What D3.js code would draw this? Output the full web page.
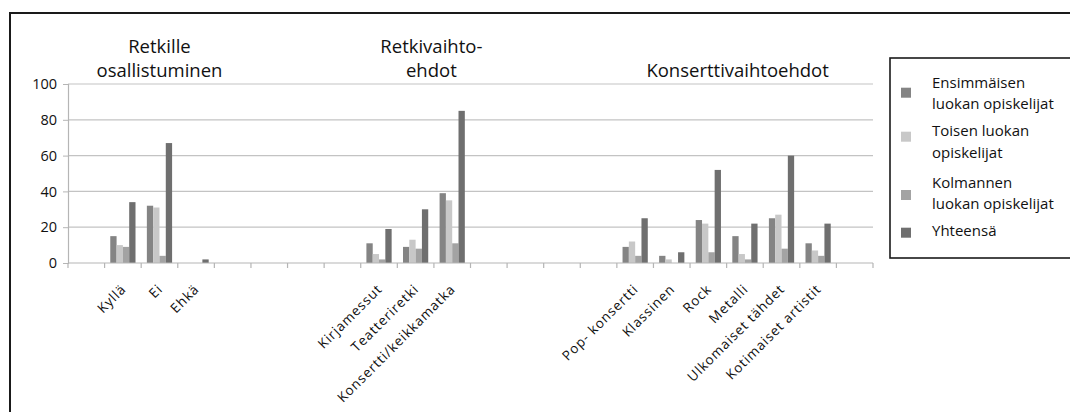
<!DOCTYPE html>
<html>
<head>
<meta charset="utf-8">
<script src="https://cdn.jsdelivr.net/npm/d3@7"></script>
<style>
  html, body { margin: 0; padding: 0; background: #fff; }
  svg { display: block; font-family: "Open Sans", sans-serif; }
</style>
</head>
<body>
<svg id="chart" width="1070" height="412"></svg>
<script>
// ---- data ----
const categories = ["", "Kyllä", "Ei", "Ehkä", "", "", "", "",
  "Kirjamessut", "Teatteriretki", "Konsertti/keikkamatka", "", "", "", "",
  "Pop- konsertti", "Klassinen", "Rock", "Metalli", "Ulkomaiset tähdet", "Kotimaiset artistit", ""];
const seriesNames = ["Ensimmäisen luokan opiskelijat", "Toisen luokan opiskelijat",
  "Kolmannen luokan opiskelijat", "Yhteensä"];
const legendLines = [["Ensimmäisen", "luokan opiskelijat"], ["Toisen luokan", "opiskelijat"],
  ["Kolmannen", "luokan opiskelijat"], ["Yhteensä"]];
const ensimmaiset = [null, 15, 32, 0, null, null, null, null, 11, 9, 39, null, null, null, null, 9, 4, 24, 15, 25, 11, null];
const toiset      = [null, 10, 31, 0, null, null, null, null, 5, 13, 35, null, null, null, null, 12, 2, 22, 5, 27, 7, null];
const kolmannet   = [null, 9, 4, 0, null, null, null, null, 2, 8, 11, null, null, null, null, 4, 0, 6, 2, 8, 4, null];
const yhteensa    = [null, 34, 67, 2, null, null, null, null, 19, 30, 85, null, null, null, null, 25, 6, 52, 22, 60, 22, null];
const yTicks = [0, 20, 40, 60, 80, 100];
const groupTitles = [["Retkille", "osallistuminen"], ["Retkivaihto-", "ehdot"], ["Konserttivaihtoehdot"]];
const groupTitlePos = [2.5, 9.93, 18.3];
const colors = ["#848484", "#c8c8c8", "#a3a3a3", "#6f6f6f"];

const seriesValues = [ensimmaiset, toiset, kolmannet, yhteensa];

// ---- layout ----
const svg = d3.select("#chart");
const pLeft = 68, pRight = 873, pTop = 84, pBottom = 263;

const idx = categories.map((d, i) => i);
const x = d3.scaleBand().domain(idx).range([pLeft, pRight]).paddingInner(0).paddingOuter(0);
const bw = x.bandwidth();
const gapRatio = 1.8;
const barW = bw / (4 + gapRatio);
const xs = d3.scaleBand().domain(d3.range(4)).range([barW * gapRatio / 2, bw - barW * gapRatio / 2]).padding(0);
const y = d3.scaleLinear().domain([0, 100]).range([pBottom, pTop]);

// outer border
svg.append("rect").attr("x", 10).attr("y", 13).attr("width", 1100).attr("height", 450)
  .attr("fill", "none").attr("stroke", "#1a1a1a").attr("stroke-width", 2);

// gridlines
svg.append("g").selectAll("line").data(yTicks.filter(t => t > 0)).join("line")
  .attr("x1", pLeft).attr("x2", pRight)
  .attr("y1", d => y(d)).attr("y2", d => y(d))
  .attr("stroke", "#c3c3c3").attr("stroke-width", 1.2);

// y axis
const yAxis = d3.axisLeft(y).tickValues(yTicks).tickSize(5).tickPadding(6);
const gy = svg.append("g").attr("transform", `translate(${pLeft},0)`).call(yAxis);
gy.select(".domain").attr("stroke", "#b5b5b5").attr("stroke-width", 1.2);
gy.selectAll(".tick line").attr("stroke", "#b5b5b5");
gy.selectAll(".tick text").attr("font-size", 14.5).attr("fill", "#111")
  .attr("font-family", "Open Sans, sans-serif");

// bars
const barData = [];
idx.forEach(i => seriesValues.forEach((s, k) => {
  if (s[i] != null) barData.push({ i, k, v: s[i] });
}));
svg.append("g").selectAll("rect").data(barData).join("rect")
  .attr("x", d => x(d.i) + xs(d.k))
  .attr("width", xs.bandwidth())
  .attr("y", d => y(d.v))
  .attr("height", d => y(0) - y(d.v))
  .attr("fill", d => colors[d.k]);

// x axis line with boundary ticks
const gx = svg.append("g");
gx.append("line").attr("x1", pLeft).attr("x2", pRight).attr("y1", y(0)).attr("y2", y(0))
  .attr("stroke", "#b5b5b5").attr("stroke-width", 1.2);
const bounds = idx.map(i => x(i)).concat([pRight]);
gx.selectAll("line.tk").data(bounds).join("line").attr("class", "tk")
  .attr("x1", d => d).attr("x2", d => d).attr("y1", y(0)).attr("y2", y(0) + 5)
  .attr("stroke", "#b5b5b5").attr("stroke-width", 1.2);

// x labels
svg.append("g").selectAll("text").data(idx.filter(i => categories[i] !== "")).join("text")
  .attr("transform", i => `translate(${x(i) + bw / 2 + 4},${y(0) + 27}) rotate(-45)`)
  .attr("text-anchor", "end")
  .attr("font-size", 13.5)
  .attr("letter-spacing", 0.9)
  .attr("fill", "#111")
  .text(i => categories[i]);

// group titles
groupTitles.forEach((lines, g) => {
  const cx = pLeft + groupTitlePos[g] * bw;
  const n = lines.length;
  lines.forEach((t, j) => {
    svg.append("text").attr("x", cx).attr("y", 77 - (n - 1 - j) * 24)
      .attr("text-anchor", "middle").attr("font-size", 18.5).attr("fill", "#111").text(t);
  });
});

// legend
const lg = svg.append("g");
lg.append("rect").attr("x", 890).attr("y", 58).attr("width", 200).attr("height", 200)
  .attr("fill", "#fff").attr("stroke", "#1a1a1a").attr("stroke-width", 1.6);
const markerY = [92.7, 136.7, 195, 232.7];
const textBase = [[88, 109], [136, 157.5], [187.5, 208.5], [236]];
seriesNames.forEach((name, k) => {
  lg.append("rect").attr("x", 901).attr("y", markerY[k] - 5).attr("width", 10).attr("height", 10)
    .attr("fill", colors[k]);
  legendLines[k].forEach((t, j) => {
    lg.append("text").attr("x", 932).attr("y", textBase[k][j]).attr("font-size", 15)
      .attr("fill", "#111").text(t);
  });
});
</script>
</body>
</html>
